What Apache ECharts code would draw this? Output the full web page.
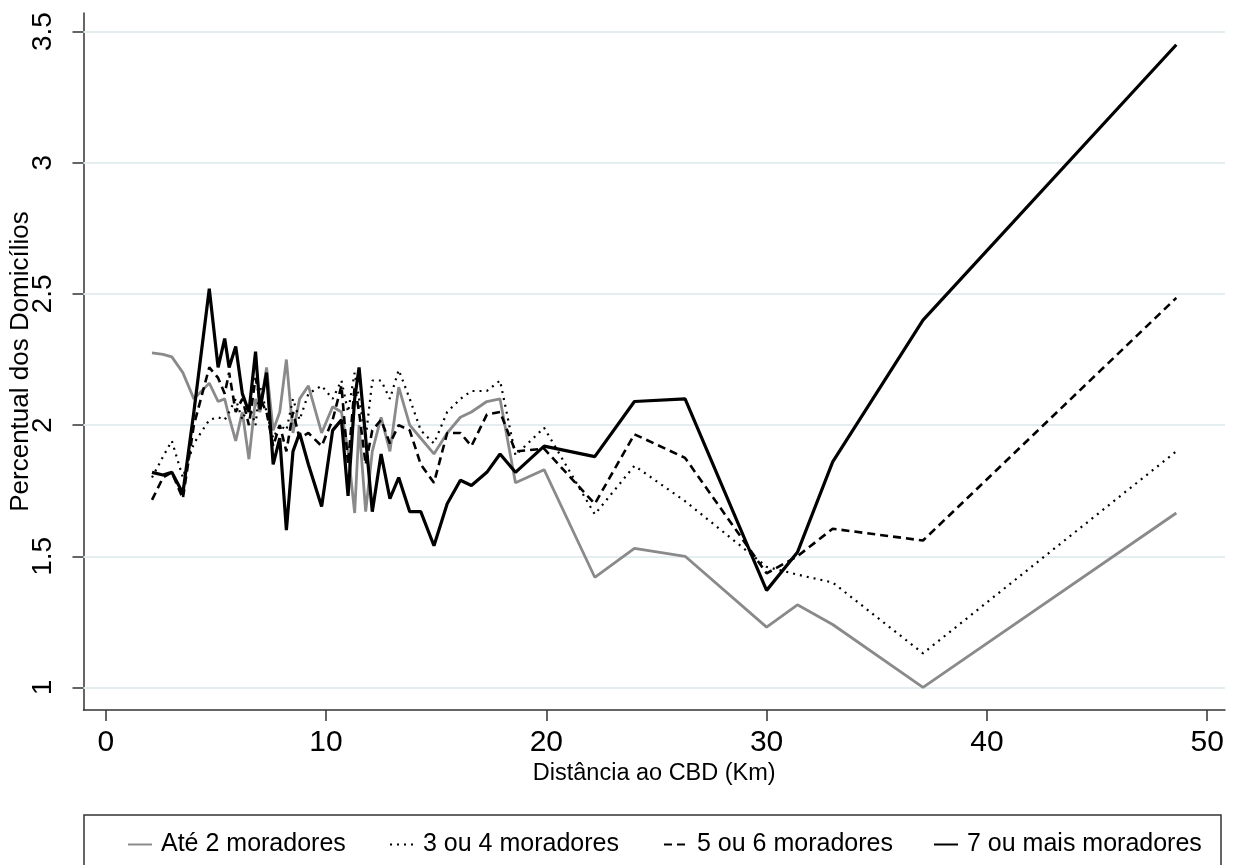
<!DOCTYPE html>
<html>
<head>
<meta charset="utf-8">
<script src="https://cdn.jsdelivr.net/npm/echarts@6/dist/echarts.min.js"></script>
<style>
  html, body { margin: 0; padding: 0; background: #fff; }
  #chart { width: 1233px; height: 865px; }
</style>
</head>
<body>
<div id="chart"></div>
<script>
// distancia ao CBD (km)
var distancia = [2.1, 2.6, 3.0, 3.5, 4.0, 4.7, 5.1, 5.4, 5.6, 5.9, 6.2, 6.5, 6.8, 7.0, 7.3, 7.6, 7.9, 8.2, 8.5, 8.8,
  9.2, 9.8, 10.3, 10.7, 11.0, 11.3, 11.5, 11.8, 12.1, 12.5, 12.9, 13.3, 13.8, 14.3, 14.9, 15.5, 16.1, 16.6, 17.3, 17.9,
  18.6, 19.9, 22.2, 24.0, 26.3, 30.0, 31.4, 33.0, 37.1, 48.6];

var ate2 = [2.275, 2.27, 2.26, 2.20, 2.10, 2.16, 2.09, 2.10, 2.03, 1.94, 2.05, 1.87, 2.10, 2.05, 2.22, 1.98, 2.05, 2.25, 1.97, 2.10,
  2.15, 1.97, 2.07, 2.05, 1.90, 1.665, 2.00, 1.67, 1.90, 2.03, 1.90, 2.145, 2.00, 1.95, 1.89, 1.97, 2.03, 2.05, 2.09, 2.10,
  1.78, 1.83, 1.42, 1.53, 1.50, 1.23, 1.315, 1.24, 1.00, 1.665];

var de3a4 = [1.80, 1.88, 1.94, 1.80, 1.93, 2.02, 2.03, 2.02, 2.05, 2.10, 2.02, 2.08, 2.00, 2.15, 2.05, 1.95, 2.00, 1.98, 2.10, 2.02,
  2.12, 2.15, 2.10, 2.17, 2.05, 2.20, 2.10, 1.95, 2.17, 2.17, 2.10, 2.21, 2.10, 1.98, 1.93, 2.05, 2.10, 2.13, 2.13, 2.17,
  1.885, 1.99, 1.66, 1.845, 1.71, 1.46, 1.43, 1.40, 1.13, 1.90];

var de5a6 = [1.715, 1.80, 1.82, 1.72, 2.00, 2.22, 2.18, 2.12, 2.20, 2.05, 2.10, 2.00, 2.18, 2.10, 2.05, 1.92, 2.00, 1.90, 2.05, 1.95,
  1.97, 1.92, 2.02, 2.15, 1.85, 2.15, 2.05, 1.85, 1.98, 2.02, 1.93, 2.00, 1.98, 1.85, 1.78, 1.97, 1.97, 1.92, 2.04, 2.05,
  1.90, 1.91, 1.70, 1.965, 1.875, 1.435, 1.50, 1.605, 1.56, 2.485];

var mais7 = [1.82, 1.81, 1.82, 1.74, 2.05, 2.52, 2.22, 2.33, 2.22, 2.30, 2.12, 2.05, 2.28, 2.06, 2.20, 1.85, 1.95, 1.60, 1.90, 1.97,
  1.85, 1.69, 1.98, 2.02, 1.73, 2.10, 2.22, 1.95, 1.67, 1.89, 1.72, 1.80, 1.67, 1.67, 1.54, 1.70, 1.79, 1.77, 1.82, 1.89,
  1.82, 1.92, 1.88, 2.09, 2.10, 1.37, 1.515, 1.86, 2.40, 3.45];

var nomes = ['Até 2 moradores', '3 ou 4 moradores', '5 ou 6 moradores', '7 ou mais moradores'];
var xTicks = [0, 10, 20, 30, 40, 50];
var yTicks = [1, 1.5, 2, 2.5, 3, 3.5];

var font = '"Liberation Sans", Arial, sans-serif';

function pares(ys) {
  return distancia.map(function (d, i) { return [d, ys[i]]; });
}

var myChart = echarts.init(document.getElementById('chart'));

var estilos = [
  { color: '#8a8a8a', width: 2.8, type: 'solid' },
  { color: '#000', width: 2.2, type: [2, 5] },
  { color: '#000', width: 2.6, type: [8, 5] },
  { color: '#000', width: 3.2, type: 'solid' }
];
var valores = [ate2, de3a4, de5a6, mais7];

var series = valores.map(function (v, i) {
  return {
    name: nomes[i],
    type: 'line',
    symbol: 'none',
    z: 3 + i,
    animation: false,
    lineStyle: estilos[i],
    itemStyle: { color: estilos[i].color },
    data: pares(v)
  };
});
// linhas de grade
series.push({
  type: 'line',
  data: [],
  z: 1,
  silent: true,
  animation: false,
  markLine: {
    silent: true,
    symbol: 'none',
    z: 1,
    animation: false,
    label: { show: false },
    lineStyle: { color: '#e4edef', width: 2, type: 'solid' },
    data: yTicks.map(function (v) { return { yAxis: v }; })
  }
});

var legendLeft = [122, 384, 658, 928];
var legends = nomes.map(function (n, i) {
  return {
    data: [n],
    left: legendLeft[i],
    top: 827,
    itemWidth: 24,
    itemHeight: 14,
    itemStyle: { color: 'rgba(0,0,0,0)', borderColor: 'rgba(0,0,0,0)', borderWidth: 0, opacity: 0 },
    textStyle: { fontFamily: font, fontSize: 25, color: '#000', padding: [0, 0, 0, 4] },
    selectedMode: false
  };
});

var option = {
  backgroundColor: '#fff',
  animation: false,
  textStyle: { fontFamily: font },
  grid: { left: 83.5, right: 8, top: 13, bottom: 155, containLabel: false, outerBoundsMode: 'none' },
  legend: legends,
  xAxis: {
    type: 'value',
    min: -1.01,
    max: 50.81,
    name: 'Distância ao CBD (Km)',
    nameLocation: 'middle',
    nameGap: 52,
    nameMoveOverlap: false,
    nameTextStyle: { fontFamily: font, fontSize: 23.5, color: '#000' },
    axisLine: { show: true, onZero: false, lineStyle: { color: '#333', width: 1.5 } },
    axisTick: { show: true, length: 11, customValues: xTicks, lineStyle: { color: '#333', width: 1.5 } },
    axisLabel: { customValues: xTicks, fontFamily: font, fontSize: 30, color: '#000', margin: 18 },
    splitLine: { show: false }
  },
  yAxis: {
    type: 'value',
    min: 0.914,
    max: 3.571,
    name: 'Percentual dos Domicílios',
    nameLocation: 'middle',
    nameRotate: 90,
    nameGap: 50,
    nameMoveOverlap: false,
    nameTextStyle: { fontFamily: font, fontSize: 26, color: '#000' },
    axisLine: { show: true, onZero: false, lineStyle: { color: '#333', width: 1.5 } },
    axisTick: { show: true, length: 11, customValues: yTicks, lineStyle: { color: '#333', width: 1.5 } },
    axisLabel: { customValues: yTicks, rotate: 90, fontFamily: font, fontSize: 28, color: '#000', margin: 26 },
    splitLine: { show: false }
  },
  graphic: [{
    type: 'rect',
    shape: { x: 84, y: 815, width: 1137, height: 90 },
    style: { fill: 'none', stroke: '#333', lineWidth: 1.5 },
    silent: true
  }],
  series: series
};

myChart.setOption(option);
</script>
</body>
</html>
